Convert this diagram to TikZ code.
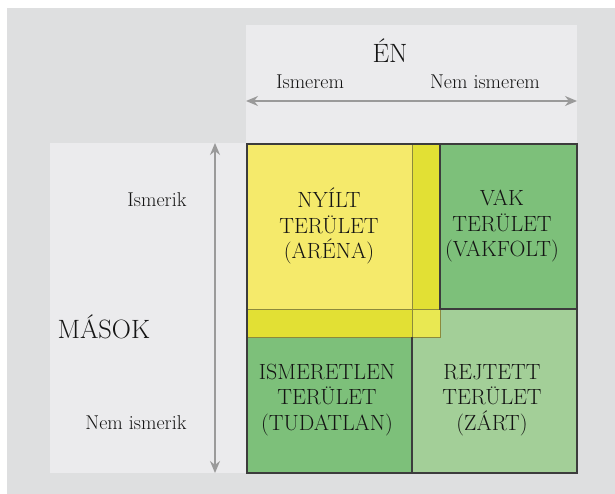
\documentclass[tikz,border=0pt]{standalone}
\usetikzlibrary{arrows.meta}
\definecolor{bgGray}{HTML}{DEDFE0}
\definecolor{panelGray}{HTML}{EBEBED}
\definecolor{arrowGray}{HTML}{9A9A9A}
\definecolor{lineDark}{HTML}{3C3C3C}
\definecolor{lineOlive}{HTML}{8C8A3C}
\definecolor{yellowA}{HTML}{F5EA6B}
\definecolor{yellowB}{HTML}{E2E034}
\definecolor{yellowC}{HTML}{E9E852}
\definecolor{greenA}{HTML}{7DC07A}
\definecolor{greenB}{HTML}{A3CF98}
\tikzset{
  cellText/.style={align=center, text=black!92, font=\fontsize{22}{25.5}\selectfont},
  sideLabel/.style={text=black!92, font=\fontsize{20}{23}\selectfont},
  bigLabel/.style={text=black!92, font=\fontsize{26.5}{30}\selectfont},
  axisArrow/.style={draw=arrowGray, line width=1.3pt, {Stealth[length=12pt,width=10pt]}-{Stealth[length=12pt,width=10pt]}},
  darkLine/.style={draw=lineDark, line width=1.5pt},
  oliveLine/.style={draw=lineOlive, line width=1pt}
}
\begin{document}
\begin{tikzpicture}[x=1pt,y=-1pt]
			%%%%% START %%%%%
			\useasboundingbox (0,0) rectangle (615,494);
			\fill[bgGray] (7,8) rectangle (615,494);
			\fill[panelGray] (246,25) rectangle (577,145);
			\fill[panelGray] (50,143) rectangle (247,473);
			
			% quadrants
			\fill[greenA] (412,144) rectangle (577,309);
			\fill[greenB] (412,309) rectangle (577,473);
			\fill[greenA] (247,309) rectangle (412,473);
			\fill[yellowA] (247,144) rectangle (412,309);
			\fill[yellowB] (412,144) rectangle (440,309);
			\fill[yellowB] (247,309) rectangle (412,337);
			\fill[yellowC] (412,309) rectangle (440,337);
			
			\draw[oliveLine] (412,144) -- (412,337);
			\draw[oliveLine] (247,309) -- (440,309);
			\draw[oliveLine] (440,309) -- (440,337) -- (247,337);
			\draw[darkLine] (440,144) -- (440,309) -- (577,309);
			\draw[darkLine] (412,337) -- (412,473);
			\draw[darkLine] (247,144) rectangle (577,473);
			
			% axes
			\coordinate (enLeft) at (246,101);
			\coordinate (enRight) at (577,101);
			\coordinate (masokTop) at (215,143);
			\coordinate (masokBottom) at (215,473);
			\draw[axisArrow] (enLeft) -- (enRight);
			\draw[axisArrow] (masokTop) -- (masokBottom);
			
			\node[bigLabel] (en) at (390,51) {ÉN};
			\node[sideLabel] (ismerem) at (310,82) {Ismerem};
			\node[sideLabel] (nemIsmerem) at (485,82) {Nem ismerem};
			\node[bigLabel, anchor=west] (masok) at (54,327) {MÁSOK};
			\node[sideLabel, anchor=east] (ismerik) at (190,200) {Ismerik};
			\node[sideLabel, anchor=east] (nemIsmerik) at (190,423) {Nem ismerik};
			
			\node[cellText] (open) at (329,226) {NYÍLT\\TERÜLET\\(ARÉNA)};
			\node[cellText] (blind) at (502,226) {VAK\\TERÜLET\\(VAKFOLT)};
			\node[cellText] (unknown) at (327,400) {ISMERETLEN\\TERÜLET\\(TUDATLAN)};
			\node[cellText] (hidden) at (492,400) {REJTETT\\TERÜLET\\(ZÁRT)};
			%%%%% END %%%%%
\end{tikzpicture}
\end{document}
